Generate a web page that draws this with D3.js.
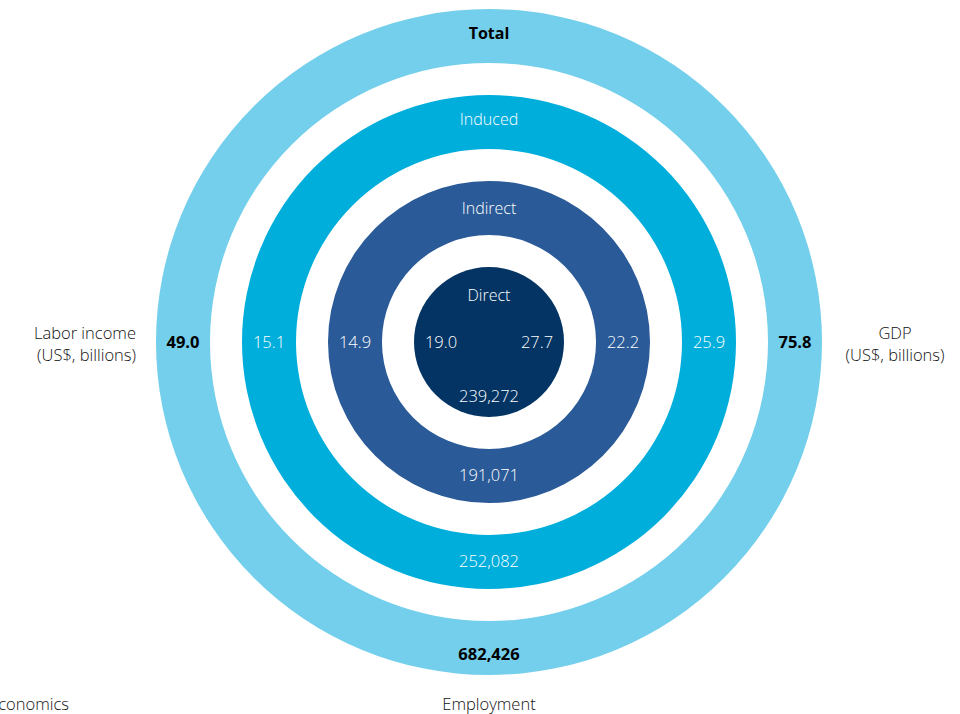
<!DOCTYPE html>
<html>
<head>
<meta charset="utf-8">
<script src="https://cdn.jsdelivr.net/npm/d3@7"></script>
<style>
  body { margin: 0; background: #fff; }
  svg text { font-family: 'Open Sans', 'Lato', sans-serif; }
</style>
</head>
<body>
<div id="chart"></div>
<script>
// impact levels, innermost first
const levels = ['Direct', 'Indirect', 'Induced', 'Total'];
const laborIncome = [19.0, 14.9, 15.1, 49.0];
const gdp = [27.7, 22.2, 25.9, 75.8];
const employment = [239272, 191071, 252082, 682426];

const width = 960;
const height = 714;
const cx = 489;
const cy = 342;
const ringWidth = 54;

const colour = d3.scaleOrdinal()
  .domain(levels)
  .range(['#033463', '#2a5a97', '#00aedc', '#73cfeb']);

// outer radius of each ring
const radius = d3.scalePoint()
  .domain(levels)
  .range([75, 333]);

const svg = d3.select('#chart').append('svg')
  .attr('width', width)
  .attr('height', height);

const g = svg.append('g')
  .attr('transform', `translate(${cx},${cy})`);

const arc = d3.arc()
  .startAngle(0)
  .endAngle(2 * Math.PI)
  .innerRadius((d, i) => (i === 0 ? 0 : radius(d) - ringWidth))
  .outerRadius((d) => radius(d));

const rings = g.selectAll('.ring')
  .data(levels)
  .enter()
  .append('g')
  .attr('class', 'ring');

rings.append('path')
  .attr('d', (d, i) => arc(d, i))
  .attr('fill', (d) => colour(d));

const labelR = (d) => radius(d) - 27;
const isTotal = (d) => d === 'Total';
const textFill = (d) => (isTotal(d) ? '#000' : '#fff');
const textWeight = (d) => (isTotal(d) ? 700 : 300);

// titles on top
rings.append('text')
  .attr('x', 0)
  .attr('y', (d, i) => -labelR(d) + [1, 0, -3, -3][i])
  .attr('dy', '0.35em')
  .attr('text-anchor', 'middle')
  .attr('font-size', 16)
  .attr('fill', textFill)
  .attr('font-weight', textWeight)
  .text((d) => d);

// labor income on the left
rings.append('text')
  .attr('x', (d) => -labelR(d))
  .attr('y', 0)
  .attr('dy', '0.35em')
  .attr('text-anchor', 'middle')
  .attr('font-size', 16.5)
  .attr('fill', textFill)
  .attr('font-weight', textWeight)
  .text((d, i) => d3.format('.1f')(laborIncome[i]));

// gdp on the right
rings.append('text')
  .attr('x', (d) => labelR(d))
  .attr('y', 0)
  .attr('dy', '0.35em')
  .attr('text-anchor', 'middle')
  .attr('font-size', 16.5)
  .attr('fill', textFill)
  .attr('font-weight', textWeight)
  .text((d, i) => d3.format('.1f')(gdp[i]));

// employment at the bottom
rings.append('text')
  .attr('x', 0)
  .attr('y', (d, i) => (i === 0 ? 54 : labelR(d) + [0, -1, -1, 6][i]))
  .attr('dy', '0.35em')
  .attr('text-anchor', 'middle')
  .attr('font-size', 16.5)
  .attr('fill', textFill)
  .attr('font-weight', textWeight)
  .text((d, i) => d3.format(',')(employment[i]));

// axis captions
const caption = svg.append('g')
  .attr('font-size', 16.5)
  .attr('font-weight', 300)
  .attr('fill', '#111');

const left = caption.append('text')
  .attr('text-anchor', 'end')
  .attr('x', 136)
  .attr('y', 339);
left.append('tspan').attr('x', 136).text('Labor income');
left.append('tspan').attr('x', 136).attr('dy', 22).text('(US$, billions)');

const right = caption.append('text')
  .attr('text-anchor', 'middle')
  .attr('x', 895)
  .attr('y', 339);
right.append('tspan').attr('x', 895).text('GDP');
right.append('tspan').attr('x', 895).attr('dy', 22).text('(US$, billions)');

caption.append('text')
  .attr('text-anchor', 'middle')
  .attr('x', cx)
  .attr('y', 710)
  .text('Employment');

// source note runs off the left edge, as in the original
caption.append('text')
  .attr('text-anchor', 'end')
  .attr('x', 69)
  .attr('y', 710)
  .text('Source: Oxford Economics');
</script>
</body>
</html>
